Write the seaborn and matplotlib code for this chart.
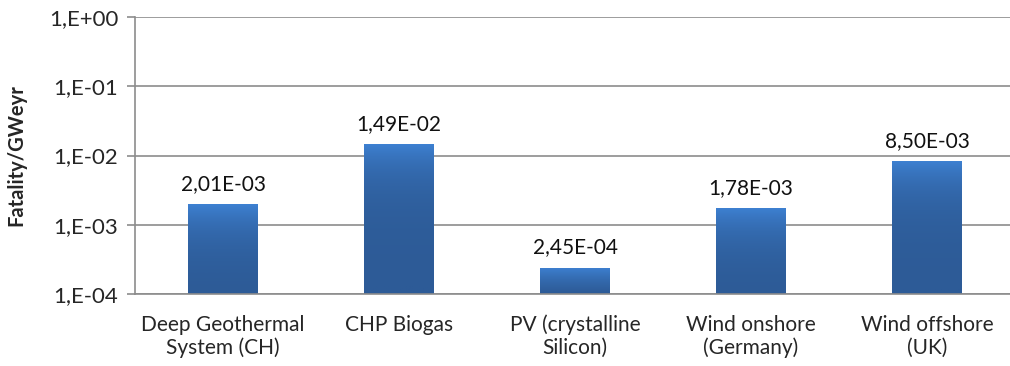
import numpy as np
import matplotlib
matplotlib.use("Agg")
import matplotlib.pyplot as plt
from matplotlib.colors import LinearSegmentedColormap
import seaborn as sns

categories = ["Deep Geothermal\nSystem (CH)", "CHP Biogas", "PV (crystalline\nSilicon)",
              "Wind onshore\n(Germany)", "Wind offshore\n(UK)"]
values = [2.01e-03, 1.49e-02, 2.45e-04, 1.78e-03, 8.50e-03]
value_labels = ["2,01E-03", "1,49E-02", "2,45E-04", "1,78E-03", "8,50E-03"]
ytick_vals = [1e-4, 1e-3, 1e-2, 1e-1, 1e0]
ytick_labels = ["1,E-04", "1,E-03", "1,E-02", "1,E-01", "1,E+00"]

sns.set_style("white")
plt.rcParams['font.family'] = ['Lato', 'DejaVu Sans']

fig = plt.figure(figsize=(10.10, 3.66), dpi=100)
ax = fig.add_axes([135 / 1010, 1 - 294 / 366, 880 / 1010, 277 / 366])

sns.barplot(x=categories, y=values, ax=ax, width=0.4, color="#3a78c8", saturation=1)
ax.set_yscale('log')
ax.set_ylim(1e-4, 1)
ax.set_xlim(-0.5, len(categories) - 0.5)

# gradient fill on bars
cmap = LinearSegmentedColormap.from_list("bar", ["#2d5b97", "#3e82d4"])
grad = np.linspace(0, 1, 256).reshape(-1, 1)
for p in ax.patches:
    x0 = p.get_x()
    w = p.get_width()
    top = p.get_y() + p.get_height()
    p.set_facecolor("none")
    p.set_edgecolor("none")
    im = ax.imshow(grad, aspect='auto', cmap=cmap, origin='lower',
                   extent=(x0, x0 + w, 1e-4, top), zorder=2, interpolation='bilinear')
    im.set_clip_path(p)
    im.set_clip_on(True)

for i, (v, lab) in enumerate(zip(values, value_labels)):
    ax.annotate(lab, (i, v), xytext=(0, 7), textcoords='offset points',
                ha='center', va='bottom', fontsize=15, color='#111111')

ax.set_yticks(ytick_vals)
ax.set_yticklabels(ytick_labels)
ax.yaxis.set_minor_locator(matplotlib.ticker.NullLocator())
ax.grid(axis='y', color='#8c8c8c', linewidth=1.2, zorder=0)
ax.set_axisbelow(True)

ax.set_xticks(np.arange(len(categories)))
ax.set_xticklabels(categories, fontsize=15, linespacing=1.18)
ax.set_xticks(np.arange(len(categories) + 1) - 0.5, minor=True)
ax.tick_params(axis='x', which='major', length=0, pad=15)
ax.tick_params(axis='x', which='minor', length=6, color='#8c8c8c', width=1.2, direction='out')
ax.tick_params(axis='y', length=6, color='#8c8c8c', width=1.2, direction='out',
               labelsize=16, pad=6, left=True)

for s in ['top', 'right']:
    ax.spines[s].set_visible(False)
for s in ['left', 'bottom']:
    ax.spines[s].set_color('#8c8c8c')
    ax.spines[s].set_linewidth(1.2)

ax.set_ylabel("Fatality/GWeyr", fontsize=14.5, fontweight='bold', labelpad=16)

fig.savefig("out.png", dpi=100)
